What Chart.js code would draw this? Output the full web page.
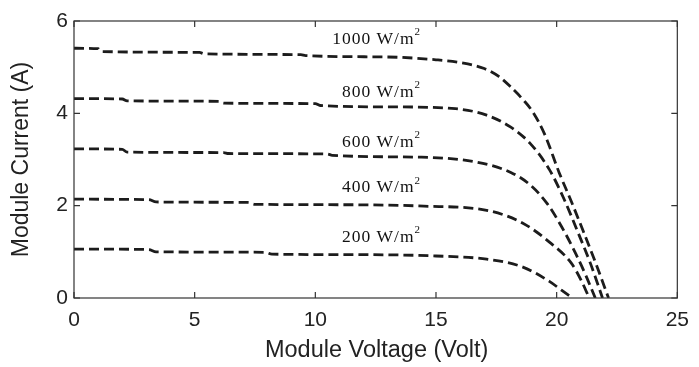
<!DOCTYPE html>
<html>
<head>
<meta charset="utf-8">
<script src="https://cdn.jsdelivr.net/npm/chart.js@4.4.0/dist/chart.umd.min.js"></script>
<style>
  html, body { margin: 0; padding: 0; background: #fff; }
  #wrap { width: 699px; height: 367px; }
</style>
</head>
<body>
<div id="wrap"><canvas id="ivChart"></canvas></div>
<script>
// irradiance levels and their I-V curves
const niveles = ['1000', '800', '600', '400', '200'];

const v1000 = [0, 1.0, 1.1, 5.2, 5.4, 9.4, 9.6, 13, 15, 16, 17, 17.6, 18.1, 18.6, 19.0, 19.5, 20.1, 20.6, 21.1, 21.6, 22.15];
const i1000 = [5.41, 5.40, 5.34, 5.32, 5.29, 5.27, 5.25, 5.22, 5.16, 5.10, 4.97, 4.80, 4.57, 4.30, 4.04, 3.55, 2.72, 2.10, 1.45, 0.78, 0];

const v800 = [0, 2.0, 2.2, 6.0, 6.2, 10.0, 10.2, 13, 15.8, 17.1, 18.1, 18.9, 19.7, 20.3, 20.9, 21.4, 21.9];
const i800 = [4.32, 4.31, 4.27, 4.26, 4.22, 4.21, 4.17, 4.14, 4.10, 3.96, 3.70, 3.35, 2.78, 2.15, 1.40, 0.75, 0];

const v600 = [0, 2.0, 2.2, 6.2, 6.4, 10.5, 10.7, 14.4, 16.7, 18.1, 18.9, 19.6, 20.2, 20.8, 21.2, 21.6];
const i600 = [3.23, 3.22, 3.16, 3.15, 3.13, 3.12, 3.09, 3.05, 2.94, 2.72, 2.45, 2.05, 1.55, 0.95, 0.50, 0];

const v400 = [0, 3.1, 3.4, 7.2, 7.5, 11.3, 14.5, 17.1, 18.6, 19.7, 20.6, 21.0, 21.35];
const i400 = [2.14, 2.13, 2.08, 2.07, 2.03, 2.02, 1.99, 1.90, 1.62, 1.21, 0.76, 0.40, 0];

const v200 = [0, 3.1, 3.4, 7.9, 8.2, 11.3, 15, 17.1, 18.6, 19.7, 20.2, 20.65];
const i200 = [1.06, 1.05, 1.00, 0.99, 0.95, 0.94, 0.91, 0.84, 0.67, 0.36, 0.17, 0];

// labels: right end and vertical middle, in data units
const etiquetaX = [14.4, 14.4, 14.4, 14.4, 14.4];
const etiquetaY = [5.6, 4.45, 3.38, 2.39, 1.32];

const xTicks = [0, 5, 10, 15, 20, 25];
const yTicks = [0, 2, 4, 6];

const tituloX = 'Module Voltage (Volt)';
const tituloY = 'Module Current (A)';

const curvas = [[v1000, i1000], [v800, i800], [v600, i600], [v400, i400], [v200, i200]];

const datasets = curvas.map((c, k) => ({
  label: niveles[k] + ' W/m2',
  data: c[0].map((v, j) => ({ x: v, y: c[1][j] })),
  showLine: true,
  borderColor: '#1c1c1c',
  borderWidth: 2.8,
  borderDash: [10, 5],
  pointRadius: 0,
  cubicInterpolationMode: 'monotone',
  fill: false
}));

const sans = '"Liberation Sans", Arial, sans-serif';
const serif = '"Liberation Serif", "Times New Roman", serif';

// frame with inward ticks, axis titles and irradiance labels
const marco = {
  id: 'marco',
  afterDatasetsDraw(chart) {
    const { ctx, chartArea: a, scales: { x, y } } = chart;
    ctx.save();
    ctx.strokeStyle = '#333';
    ctx.lineWidth = 1.2;
    ctx.strokeRect(a.left, a.top, a.right - a.left, a.bottom - a.top);
    ctx.beginPath();
    xTicks.forEach(t => {
      const px = x.getPixelForValue(t);
      ctx.moveTo(px, a.bottom); ctx.lineTo(px, a.bottom - 6);
      ctx.moveTo(px, a.top); ctx.lineTo(px, a.top + 6);
    });
    yTicks.forEach(t => {
      const py = y.getPixelForValue(t);
      ctx.moveTo(a.left, py); ctx.lineTo(a.left + 6, py);
      ctx.moveTo(a.right, py); ctx.lineTo(a.right - 6, py);
    });
    ctx.stroke();

    // axis titles
    ctx.fillStyle = '#222';
    ctx.textAlign = 'center';
    ctx.textBaseline = 'middle';
    ctx.font = '23.5px ' + sans;
    ctx.fillText(tituloX, (a.left + a.right) / 2 + 1, a.bottom + 53);
    ctx.save();
    ctx.translate(22, (a.top + a.bottom) / 2);
    ctx.rotate(-Math.PI / 2);
    ctx.font = '23px ' + sans;
    ctx.fillText(tituloY, 0, 0);
    ctx.restore();

    // irradiance labels
    ctx.fillStyle = '#111';
    ctx.textAlign = 'left';
    niveles.forEach((n, k) => {
      const px = x.getPixelForValue(etiquetaX[k]);
      const py = y.getPixelForValue(etiquetaY[k]);
      ctx.font = '17.5px ' + serif;
      ctx.letterSpacing = '1px';
      const txt = n + ' W/m';
      const w = ctx.measureText(txt).width;
      const x0 = px - w - 7;
      ctx.fillText(txt, x0, py);
      ctx.font = '11px ' + serif;
      ctx.fillText('2', x0 + w, py - 7);
    });
    ctx.restore();
  }
};

new Chart(document.getElementById('ivChart'), {
  type: 'scatter',
  data: { datasets: datasets },
  options: {
    responsive: true,
    maintainAspectRatio: false,
    animation: false,
    layout: { padding: { top: 21, right: 12, left: 0, bottom: 0 } },
    plugins: { legend: { display: false }, tooltip: { enabled: false } },
    scales: {
      x: {
        type: 'linear',
        min: 0, max: 25,
        afterBuildTicks: s => { s.ticks = xTicks.map(v => ({ value: v })); },
        afterFit: s => { s.height = 69; },
        grid: { display: false, drawTicks: false },
        border: { display: false },
        ticks: {
          padding: 10,
          color: '#222',
          font: { family: sans, size: 21 }
        }
      },
      y: {
        type: 'linear',
        min: 0, max: 6,
        afterBuildTicks: s => { s.ticks = yTicks.map(v => ({ value: v })); },
        afterFit: s => { s.width = 74; },
        grid: { display: false, drawTicks: false },
        border: { display: false },
        ticks: {
          padding: 6,
          color: '#222',
          font: { family: sans, size: 21 }
        }
      }
    }
  },
  plugins: [marco]
});
</script>
</body>
</html>
